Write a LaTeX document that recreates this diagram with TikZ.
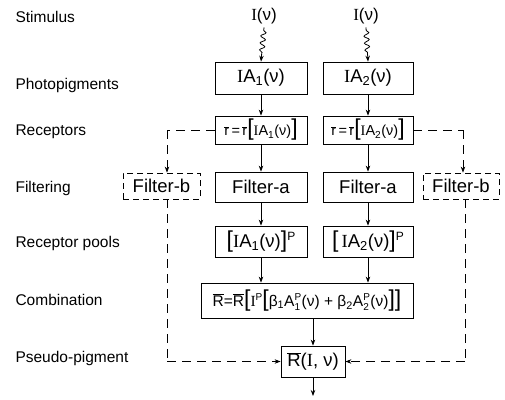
\documentclass[tikz,border=0pt]{standalone}
\usepackage{fontspec}
\setmainfont{Liberation Sans}
\newfontfamily\serI{Liberation Serif}
\usetikzlibrary{arrows.meta,decorations.pathmorphing}
\newcommand{\Ir}{{\serI I}}
\newcommand{\ob}[1]{$\overline{\hbox{#1}}$}
\newcommand{\bb}[1]{{\fontsize{23}{23}\selectfont #1}}
\newcommand{\sm}[1]{\hbox{\fontsize{10}{10}\selectfont #1}}
\newcommand{\Asp}[2]{$\hbox{A}_{\sm{#1}}^{\sm{#2}}$}
\begin{document}
\begin{tikzpicture}[x=1pt,y=-1pt,
  lab/.style={anchor=west,font=\fontsize{15.5}{18}\selectfont},
  box/.style={draw,line width=0.8pt,inner sep=0pt,font=\fontsize{18.5}{20}\selectfont},
  dbox/.style={box,dash pattern=on 6pt off 4pt},
  arr/.style={line width=0.8pt,-{Stealth[length=6pt,width=4.5pt]}},
  darr/.style={arr,dash pattern=on 9pt off 6pt},
  dline/.style={line width=0.8pt,dash pattern=on 9pt off 6pt},
  wav/.style={arr,decorate,decoration={snake,amplitude=2.5pt,segment length=7pt,pre length=3pt,post length=7pt}}]
\useasboundingbox (0,0) rectangle (505,399);
% row labels
\node[lab] (l1) at (12,17) {Stimulus};
\node[lab] (l2) at (12,85) {Photopigments};
\node[lab] (l3) at (12,132) {Receptors};
\node[lab] (l4) at (12,188) {Filtering};
\node[lab] (l5) at (12,243) {Receptor pools};
\node[lab] (l6) at (12,300) {Combination};
\node[lab] (l7) at (12,358) {Pseudo-pigment};
% stimulus
\node[font=\fontsize{17}{19}\selectfont] (s1) at (264,16) {\Ir(ν)};
\node[font=\fontsize{17}{19}\selectfont] (s2) at (366,16) {\Ir(ν)};
% photopigments
\node[box,minimum width=92pt,minimum height=32pt] (ia1) at (261,78) {\Ir A\textsubscript{1}(ν)};
\node[box,minimum width=90pt,minimum height=32pt] (ia2) at (368,78) {\Ir A\textsubscript{2}(ν)};
% receptors
\node[box,minimum width=92pt,minimum height=28pt,font=\fontsize{14.5}{16}\selectfont] (r1) at (261,130) {\ob{r}\,=\,\ob{r}\bb{[}\Ir A\textsubscript{1}(ν)\bb{]}};
\node[box,minimum width=90pt,minimum height=28pt,font=\fontsize{14.5}{16}\selectfont] (r2) at (368,130) {\ob{r}\,=\,\ob{r}\bb{[}\Ir A\textsubscript{2}(ν)\bb{]}};
% filtering
\node[box,minimum width=92pt,minimum height=30pt] (fa1) at (261,187) {Filter-a};
\node[box,minimum width=90pt,minimum height=30pt] (fa2) at (368,187) {Filter-a};
\node[dbox,minimum width=77pt,minimum height=26pt] (fb1) at (161.5,186) {Filter-b};
\node[dbox,minimum width=76pt,minimum height=26pt] (fb2) at (461,186) {Filter-b};
% receptor pools
\node[box,minimum width=92pt,minimum height=31pt] (p1) at (261,241.5) {\bb{[}\Ir A\textsubscript{1}(ν)\bb{]}\raisebox{7pt}{\fontsize{12}{12}\selectfont P}};
\node[box,minimum width=90pt,minimum height=31pt] (p2) at (368,241.5) {\bb{[}\,\Ir A\textsubscript{2}(ν)\bb{]}\raisebox{7pt}{\fontsize{12}{12}\selectfont P}};
% combination
\node[box,minimum width=212pt,minimum height=35pt,font=\fontsize{15.5}{17}\selectfont] (c) at (307,300.5) {\ob{R}=\ob{R}\bb{[}\Ir\raisebox{6pt}{\fontsize{10}{10}\selectfont P}\bb{[}β\textsubscript{1}\Asp{1}{P}(ν) + β\textsubscript{2}\Asp{2}{P}(ν)\bb{]}\bb{]}};
% pseudo-pigment
\node[box,minimum width=64pt,minimum height=31pt] (rp) at (313,361.5) {\ob{R}(\Ir, ν)};
\coordinate (out) at (313,396);
% solid arrows
\draw[wav] (s1.south) -- (ia1.north);
\draw[wav] (s2.south) -- (ia2.north);
\draw[arr] (ia1) -- (r1);
\draw[arr] (ia2) -- (r2);
\draw[arr] (r1) -- (fa1);
\draw[arr] (r2) -- (fa2);
\draw[arr] (fa1) -- (p1);
\draw[arr] (fa2) -- (p2);
\draw[arr] (p1.south) -- (p1.south |- c.north);
\draw[arr] (p2.south) -- (p2.south |- c.north);
\draw[arr] (rp.north |- c.south) -- (rp.north);
\draw[arr] (rp.south) -- (out);
% dashed connections
\coordinate (k1) at (167,130);
\coordinate (k2) at (463,130);
\coordinate (k3) at (167,361.5);
\coordinate (k4) at (465,361.5);
\draw[dline] (r1.west) -- (k1);
\draw[darr] (k1) -- (k1 |- fb1.north);
\draw[dline] (r2.east) -- (k2);
\draw[darr] (k2) -- (k2 |- fb2.north);
\draw[dline] (k1 |- fb1.south) -- (k3);
\draw[darr] (k3) -- (rp.west);
\draw[dline] (k4 |- fb2.south) -- (k4);
\draw[darr] (k4) -- (rp.east);
\end{tikzpicture}
\end{document}
